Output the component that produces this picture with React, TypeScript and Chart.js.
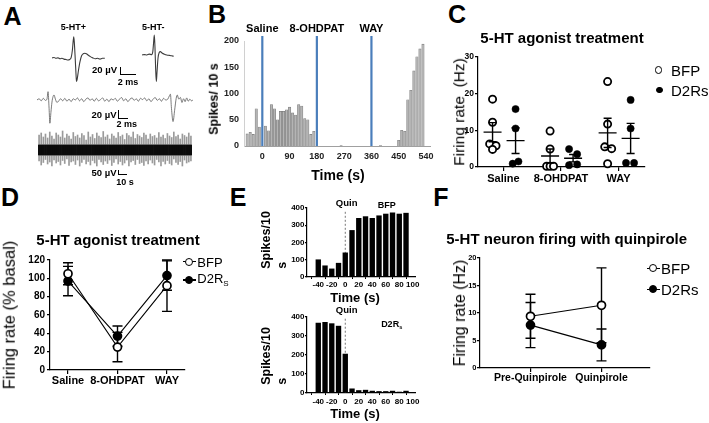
import React, { useEffect, useRef } from 'react';
import { Chart, registerables } from 'chart.js';

Chart.register(...registerables);

const FONT = '"Liberation Sans", Arial, Helvetica, sans-serif';
Chart.defaults.font.family = FONT;
Chart.defaults.color = '#000';

// ---------------- Panel A data ----------------
const plusT = [0, 0.25, 0.5, 0.75, 1.0, 1.25, 1.5, 1.75, 2.0, 2.2, 2.4, 2.55, 2.65, 2.72, 2.8, 2.9, 3.0, 3.06, 3.15, 3.3, 3.5, 3.7, 3.9, 4.1, 4.3, 4.5, 4.8, 5.1, 5.4, 5.7, 6.0, 6.3, 6.6];
const plusV = [1, 2, 0, 1, -1, 0, -2, -3, -4, -3, 2, 20, 42, 52, 35, 0, -38, -56, -50, -30, -8, 6, 11, 12, 11, 8, 4, 1, -1, 0, -2, 0, 0];
const minusT = [0, 0.3, 0.6, 0.9, 1.2, 1.35, 1.45, 1.54, 1.62, 1.7, 1.79, 1.88, 2.0, 2.15, 2.3, 2.5, 2.8, 3.1, 3.4, 3.7, 3.96];
const minusV = [0, 1, 0, 2, 1, 8, 30, 48, 20, -30, -64, -40, -8, 6, 8, 5, 2, 0, -1, -2, -3];
const midT = [0, 0.4, 0.8, 1.2, 1.6, 1.9, 2.1, 2.3, 2.45, 2.65, 2.85, 3.05, 3.25, 3.5, 3.8, 4.1,
  4.5, 4.9, 5.3, 5.7, 6.1, 6.5, 6.9, 7.3, 7.7, 8.1, 8.5, 8.9, 9.3, 9.7, 10.1, 10.5, 10.9, 11.3, 11.7, 12.1,
  12.5, 12.9, 13.3, 13.7, 14.1, 14.5, 14.9, 15.3, 15.7, 16.1, 16.5, 16.9, 17.3, 17.7, 18.1, 18.5, 18.9, 19.3,
  19.7, 20.1, 20.5, 20.9, 21.3, 21.7, 22.1, 22.5, 22.9, 23.3, 23.7, 24.1, 24.5, 24.9,
  25.2, 25.4, 25.6, 25.9, 26.2, 26.5, 26.7, 27.0, 27.3, 27.6, 27.9, 28.2, 28.5, 28.8, 29.1, 29.4, 29.8];
const midV = [0, 3, -2, 4, -1, 2, 20, -20, -56, -30, -5, 8, 12, 2, -6, -3,
  3, -2, 4, -3, 2, -4, 3, 0, 5, -2, 3, -4, 2, 5, -1, 3, -3, 4, -2, 1,
  5, -3, 2, -4, 3, 0, 4, -3, 2, 6, -2, 3, -4, 2, 5, -1, 3, -3,
  4, 1, 5, -2, 3, -4, 2, 6, -1, 3, -3, 4, 0, 2,
  10, 14, -20, -52, -25, 4, 12, 2, 6, -6, 3, -4, 5, -3, 2, -2, 1];
const spikeUp = [150, 170, 130, 160, 120, 180, 140, 110, 170, 150, 130, 190,
  120, 160, 140, 110, 175, 135, 150, 120, 165, 145, 100, 180,
  130, 155, 115, 170, 140, 125, 185, 130, 150, 110, 160, 140,
  120, 175, 135, 150, 105, 165, 145, 130, 180, 115, 155, 140,
  125, 170, 150, 110, 160, 135, 145, 120, 175, 130, 150, 115,
  165, 140, 125, 180, 135, 150, 110, 160, 145, 130, 170, 140];
const spikeDown = [110, 150, 125, 95, 140, 120, 160, 100, 130, 115, 150, 105,
  135, 90, 155, 120, 110, 145, 100, 160, 125, 95, 140, 115,
  150, 105, 130, 160, 95, 120, 145, 110, 135, 100, 155, 125,
  90, 140, 115, 150, 130, 100, 160, 120, 105, 145, 95, 135,
  125, 155, 110, 140, 100, 130, 150, 95, 120, 160, 115, 140,
  105, 135, 150, 90, 125, 145, 115, 160, 100, 130, 120, 110];
const noiseBand = [-50, 50];

// ---------------- Panel B data ----------------
const bTimes = [-50, -40, -30, -20, -10, 10, 20, 30, 40, 50, 60, 70, 80, 90, 100, 110, 120, 130, 140, 150, 160, 170, 260, 390, 450, 460, 470, 480, 490, 500, 510, 520, 530];
const bCounts = [23, 26, 22, 71, 36, 38, 29, 79, 71, 50, 66, 66, 69, 74, 63, 59, 79, 76, 52, 50, 22, 28, 1, 1, 11, 30, 28, 88, 106, 143, 170, 185, 194];
const bTicks = [0, 90, 180, 270, 360, 450, 540];
const bEventTimes = [0, 180, 360];
const bEventNames = ['Saline', '8-OHDPAT', 'WAY'];

// ---------------- Panel C data ----------------
const treatments = ['Saline', '8-OHDPAT', 'WAY'];
const cBfpPoints = [[18.5, 12.2, 6.3, 5.8, 4.8], [9.8, 4.9, 0.2, 0.2, 0.2], [23.3, 11.7, 5.5, 5.0, 0.9]];
const cBfpJitter = [[0, 0, -0.05, 0.06, 0], [0, 0, -0.06, 0, 0.06], [0, 0, -0.05, 0.07, 0]];
const cD2Points = [[15.8, 10.5, 0.9, 1.5], [4.9, 3.5, 0.5, 0.7], [18.3, 10.5, 1.1, 1.1]];
const cD2Jitter = [[0, 0, -0.05, 0.05], [-0.07, 0.07, -0.07, 0.07], [0, 0, -0.08, 0.06]];
const cBfpMean = [9.5, 3.0, 9.3];
const cBfpSem = [2.6, 1.9, 4.0];
const cD2Mean = [7.2, 2.4, 7.8];
const cD2Sem = [3.5, 1.0, 4.1];
const cGroupOffset = [-0.19, 0.21];

// ---------------- Panel D data ----------------
const dBfp = [105, 25, 92];
const dBfpErr = [12, 16, 28];
const dD2 = [97, 37, 103];
const dD2Err = [16, 11, 16];

// ---------------- Panel E data ----------------
const eTimes = [-40, -30, -20, -10, 0, 10, 20, 30, 40, 50, 60, 70, 80, 90];
const eBfp = [100, 65, 47, 80, 140, 270, 340, 350, 340, 355, 365, 372, 365, 370];
const eD2 = [368, 372, 365, 352, 205, 22, 13, 15, 10, 8, 8, 10, 5, 10];
const eTicks = [-40, -20, 0, 20, 40, 60, 80, 100];
const quinTime = 0;

// ---------------- Panel F data ----------------
const fConds = ['Pre-Quinpirole', 'Quinpirole'];
const fBfp = [9.4, 11.4];
const fBfpErr = [4.0, 6.8];
const fD2 = [7.8, 4.2];
const fD2Err = [4.1, 2.9];

// ---------------- helpers ----------------
type Area = { l: number; t: number; r: number; b: number };

function ChartBox({ area, yW = 0, xH = 0, pad = 14, make }: { area: Area; yW?: number; xH?: number; pad?: number; make: () => any }) {
  const ref = useRef<HTMLCanvasElement | null>(null);
  const l = Math.round(area.l), t = Math.round(area.t), r = Math.round(area.r), b = Math.round(area.b);
  const left = l - yW - pad;
  const top = t - pad;
  const w = r - l + yW + 2 * pad;
  const h = b - t + xH + 2 * pad;
  useEffect(() => {
    if (!ref.current) return;
    const cfg = make();
    const o = cfg.options || (cfg.options = {});
    o.animation = false;
    o.responsive = false;
    o.maintainAspectRatio = false;
    o.devicePixelRatio = 1;
    o.events = [];
    o.layout = { padding: pad };
    o.plugins = Object.assign({ legend: { display: false }, tooltip: { enabled: false } }, o.plugins || {});
    const sc = o.scales || {};
    const zero = (s: any) => { s.paddingLeft = 0; s.paddingRight = 0; s.paddingTop = 0; s.paddingBottom = 0; };
    if (sc.x && sc.x.display !== false) sc.x.afterFit = (s: any) => { s.height = xH; zero(s); };
    if (sc.y && sc.y.display !== false) sc.y.afterFit = (s: any) => { s.width = yW; zero(s); };
    const chart = new Chart(ref.current, cfg);
    return () => chart.destroy();
  }, []);
  return <canvas ref={ref} width={w} height={h} style={{ position: 'absolute', left, top, width: w, height: h }} />;
}

function Txt({ x, y, s, b, a = 'c', rot, lh = 1, children }: { x: number; y: number; s: number; b?: boolean; a?: 'c' | 'l' | 'r'; rot?: boolean; lh?: number; children: React.ReactNode }) {
  const tx = a === 'c' ? '-50%' : a === 'r' ? '-100%' : '0';
  return (
    <div style={{
      position: 'absolute', left: x, top: y, fontSize: s, fontWeight: b ? 700 : 400, lineHeight: lh,
      whiteSpace: 'pre', textAlign: 'left',
      transform: rot ? 'translate(-50%,-50%) rotate(-90deg)' : `translate(${tx},-50%)`,
    }}>{children}</div>
  );
}

function Mk({ x, y, fill, r = 4, bw = 1.6, line = 0 }: { x: number; y: number; fill: string; r?: number; bw?: number; line?: number }) {
  return (
    <>
      {line > 0 && <div style={{ position: 'absolute', left: x - line / 2, top: y - 0.6, width: line, height: 1.2, background: '#000' }} />}
      <div style={{ position: 'absolute', left: x - r, top: y - r, width: 2 * r, height: 2 * r, borderRadius: '50%', boxSizing: 'border-box', border: `${bw}px solid #000`, background: fill }} />
    </>
  );
}

function Bar({ x, y, w, h }: { x: number; y: number; w: number; h: number }) {
  return <div style={{ position: 'absolute', left: x, top: y, width: w, height: h, borderLeft: '1.3px solid #000', borderBottom: '1.3px solid #000', boxSizing: 'border-box' }} />;
}

const sub = (t: string) => <span style={{ fontSize: '0.62em', verticalAlign: '-0.3em' }}>{t}</span>;

// ---------------- chart configs ----------------
const traceCfg = (xs: number[], vs: number[], xmax: number, ymin: number, ymax: number, color: string, width: number) => () => ({
  type: 'line',
  data: { datasets: [{ data: xs.map((x, i) => ({ x, y: vs[i] })), borderColor: color, borderWidth: width, pointRadius: 0, cubicInterpolationMode: 'monotone', clip: false }] },
  options: { scales: { x: { type: 'linear', display: false, min: 0, max: xmax }, y: { display: false, min: ymin, max: ymax } } },
});

const rawCfg = () => ({
  type: 'bar',
  data: {
    labels: spikeUp.map((_, i) => String(i)),
    datasets: [
      { data: spikeUp.map(() => noiseBand), backgroundColor: '#0b0b0b', barPercentage: 1, categoryPercentage: 1, grouped: false },
      { data: spikeUp.map((u, i) => [-spikeDown[i], u]), backgroundColor: '#9a9a9a', barThickness: 1, grouped: false },
    ],
  },
  options: { scales: { x: { display: false }, y: { display: false, min: -200, max: 220 } } },
});

const eventPlugin = {
  id: 'events',
  afterDatasetsDraw(chart: any) {
    const { ctx, chartArea, scales: { x } } = chart;
    ctx.save();
    ctx.strokeStyle = '#4a7ebb';
    ctx.lineWidth = 2.2;
    ctx.fillStyle = '#000';
    ctx.font = `bold 11px ${FONT}`;
    ctx.textAlign = 'center';
    ctx.textBaseline = 'middle';
    bEventTimes.forEach((t, i) => {
      const px = x.getPixelForValue(t);
      ctx.beginPath();
      ctx.moveTo(px, chartArea.top - 5);
      ctx.lineTo(px, chartArea.bottom);
      ctx.stroke();
      ctx.fillText(bEventNames[i], px, chartArea.top - 12);
    });
    ctx.restore();
  },
};

const bCfg = () => ({
  type: 'bar',
  data: { datasets: [{ data: bTimes.map((t, i) => ({ x: t, y: bCounts[i] })), backgroundColor: '#b4b4b4', borderColor: '#7a7a7a', borderWidth: 0.6, barThickness: 2.4 }] },
  options: {
    scales: {
      x: {
        type: 'linear', min: -60.4, max: 553.2, offset: false,
        afterBuildTicks: (s: any) => { s.ticks = bTicks.map((v) => ({ value: v })); },
        ticks: { font: { size: 9, weight: 'bold' }, color: '#222', padding: 5, maxRotation: 0, autoSkip: false },
        grid: { display: false, drawTicks: false }, border: { display: true, color: '#a0a0a0', width: 1 },
      },
      y: {
        min: 0, max: 200,
        ticks: { stepSize: 50, font: { size: 9, weight: 'bold' }, color: '#222', padding: 5 },
        grid: { display: false, drawTicks: false }, border: { display: true, color: '#d0d0d0', width: 1 },
      },
    },
  },
  plugins: [eventPlugin],
});

const axX = (labels: string[], min: number, max: number, size: number, pad: number) => ({
  type: 'linear', min, max, offset: false,
  afterBuildTicks: (s: any) => { s.ticks = labels.map((_, i) => ({ value: i })); },
  ticks: { callback: (v: any) => labels[v] ?? '', font: { size, weight: 'bold' }, padding: pad, maxRotation: 0, autoSkip: false, color: '#000' },
  grid: { display: true, drawOnChartArea: false, drawTicks: true, tickLength: 4, color: '#000', lineWidth: 1.2 },
  border: { display: true, color: '#000', width: 1.2 },
});
const axY = (min: number, max: number, step: number, size: number, pad: number, tl = 3) => ({
  min, max,
  ticks: { stepSize: step, font: { size, weight: 'bold' }, padding: pad, color: '#000' },
  grid: { display: true, drawOnChartArea: false, drawTicks: true, tickLength: tl, color: '#000', lineWidth: 1.2 },
  border: { display: true, color: '#000', width: 1.2 },
});

const pts = (vals: number[][], jit: number[][], off: number) =>
  vals.flatMap((arr, i) => arr.map((v, j) => ({ x: i + off + jit[i][j], y: v })));

const cPlugin = {
  id: 'cMeans',
  afterDatasetsDraw(chart: any) {
    const { ctx, scales: { x, y } } = chart;
    ctx.save();
    ctx.strokeStyle = '#000';
    ctx.lineWidth = 1.4;
    const groups: [number[], number[], number][] = [[cBfpMean, cBfpSem, cGroupOffset[0]], [cD2Mean, cD2Sem, cGroupOffset[1]]];
    groups.forEach(([m, s, off]) => m.forEach((mean, i) => {
      const px = x.getPixelForValue(i + off);
      const py = y.getPixelForValue(mean);
      const pt = y.getPixelForValue(mean + s[i]);
      const pb = y.getPixelForValue(mean - s[i]);
      ctx.beginPath();
      ctx.moveTo(px - 9, py); ctx.lineTo(px + 9, py);
      ctx.moveTo(px, pt); ctx.lineTo(px, pb);
      ctx.moveTo(px - 4, pt); ctx.lineTo(px + 4, pt);
      ctx.moveTo(px - 4, pb); ctx.lineTo(px + 4, pb);
      ctx.stroke();
    }));
    ctx.restore();
  },
};

const cCfg = () => ({
  type: 'scatter',
  data: {
    datasets: [
      { data: pts(cBfpPoints, cBfpJitter, cGroupOffset[0]), pointRadius: 3.6, pointBackgroundColor: '#fff', pointBorderColor: '#000', pointBorderWidth: 1.8, clip: false },
      { data: pts(cD2Points, cD2Jitter, cGroupOffset[1]), pointRadius: 3.6, pointBackgroundColor: '#000', pointBorderColor: '#000', pointBorderWidth: 0.5, clip: false },
    ],
  },
  options: { scales: { x: axX(treatments, -0.443, 2.46, 11, 1), y: axY(0, 30, 10, 8.5, 1) } },
  plugins: [cPlugin],
});

const errPlugin = (series: [number[], number[]][]) => ({
  id: 'errs',
  beforeDatasetsDraw(chart: any) {
    const { ctx, scales: { x, y } } = chart;
    ctx.save();
    ctx.strokeStyle = '#000';
    ctx.lineWidth = 1.4;
    series.forEach(([m, e]) => m.forEach((v, i) => {
      const px = x.getPixelForValue(i);
      const pt = y.getPixelForValue(v + e[i]);
      const pb = y.getPixelForValue(v - e[i]);
      ctx.beginPath();
      ctx.moveTo(px, pt); ctx.lineTo(px, pb);
      ctx.moveTo(px - 5, pt); ctx.lineTo(px + 5, pt);
      ctx.moveTo(px - 5, pb); ctx.lineTo(px + 5, pb);
      ctx.stroke();
    }));
    ctx.restore();
  },
});

const seriesDs = (vals: number[], fill: string) => ({
  data: vals.map((v, i) => ({ x: i, y: v })), borderColor: '#000', borderWidth: 1.1, pointRadius: 4,
  pointBackgroundColor: fill, pointBorderColor: '#000', pointBorderWidth: 1.7, clip: false, tension: 0,
});

const dCfg = () => ({
  type: 'line',
  data: { datasets: [seriesDs(dBfp, '#fff'), seriesDs(dD2, '#000')] },
  options: { scales: { x: axX(treatments, -0.364, 2.364, 11, 0), y: axY(0, 120, 20, 10, 2) } },
  plugins: [errPlugin([[dBfp, dBfpErr], [dD2, dD2Err]])],
});

const fCfg = () => ({
  type: 'line',
  data: { datasets: [seriesDs(fBfp, '#fff'), seriesDs(fD2, '#000')] },
  options: { scales: { x: axX(fConds, -0.711, 1.683, 10.5, 0), y: axY(0, 20, 5, 7.5, 0.5) } },
  plugins: [errPlugin([[fBfp, fBfpErr], [fD2, fD2Err]])],
});

const quinPlugin = (topVal: number) => ({
  id: 'quin',
  beforeDatasetsDraw(chart: any) {
    const { ctx, chartArea, scales: { x, y } } = chart;
    const px = x.getPixelForValue(quinTime);
    ctx.save();
    ctx.strokeStyle = '#777';
    ctx.lineWidth = 1;
    ctx.setLineDash([2, 2]);
    ctx.beginPath();
    ctx.moveTo(px, y.getPixelForValue(topVal));
    ctx.lineTo(px, chartArea.bottom);
    ctx.stroke();
    ctx.restore();
  },
});

const eCfg = (vals: number[], topVal: number, xPad: number) => () => ({
  type: 'bar',
  data: { datasets: [{ data: eTimes.map((t, i) => ({ x: t, y: vals[i] })), backgroundColor: '#000', barThickness: 4.7 }] },
  options: {
    scales: {
      x: {
        type: 'linear', min: -56.7, max: 103.3, offset: false,
        afterBuildTicks: (s: any) => { s.ticks = eTicks.map((v) => ({ value: v })); },
        ticks: { font: { size: 8, weight: 'bold' }, padding: xPad, maxRotation: 0, autoSkip: false, color: '#000' },
        grid: { display: true, drawOnChartArea: false, drawTicks: true, tickLength: 2, color: '#000', lineWidth: 1 },
        border: { display: true, color: '#000', width: 1.2 },
      },
      y: axY(0, 400, 100, 8, 0.5, 2),
    },
  },
  plugins: [quinPlugin(topVal)],
});

export default function App() {
  return (
    <div style={{ position: 'fixed', left: 0, top: 0, width: 709, height: 423, background: '#fff', overflow: 'hidden', fontFamily: FONT, color: '#000' }}>
      {/* Panel letters */}
      <Txt x={12.5} y={16} s={25} b>A</Txt>
      <Txt x={217} y={14} s={25} b>B</Txt>
      <Txt x={457} y={14} s={25} b>C</Txt>
      <Txt x={10} y={197} s={25} b>D</Txt>
      <Txt x={238} y={197} s={25} b>E</Txt>
      <Txt x={441} y={197} s={25} b>F</Txt>

      {/* Panel A */}
      <ChartBox area={{ l: 52, t: 30, r: 105, b: 88 }} pad={0} make={traceCfg(plusT, plusV, 6.625, -71.6, 68.2, '#3c3c3c', 1.1)} />
      <ChartBox area={{ l: 142, t: 30, r: 175, b: 88 }} pad={0} make={traceCfg(minusT, minusV, 4.125, -79.5, 60.2, '#3c3c3c', 1.1)} />
      <ChartBox area={{ l: 37, t: 85, r: 193, b: 128 }} pad={0} make={traceCfg(midT, midV, 29.7, -67.5, 36.1, '#5a5a5a', 0.8)} />
      <ChartBox area={{ l: 38, t: 128, r: 192, b: 170 }} pad={0} make={rawCfg} />
      <Txt x={73.3} y={26.7} s={9} b>5-HT+</Txt>
      <Txt x={153.3} y={26.7} s={9} b>5-HT-</Txt>
      <Txt x={117} y={70} s={9.5} b a="r">20 µV</Txt>
      <Bar x={120} y={66.7} w={16} h={8.6} />
      <Txt x={128} y={81.5} s={9} b>2 ms</Txt>
      <Txt x={116.5} y={114.5} s={9.5} b a="r">20 µV</Txt>
      <Bar x={117.5} y={110} w={10.5} h={8.6} />
      <Txt x={126.7} y={123.5} s={9} b>2 ms</Txt>
      <Txt x={116.5} y={173.3} s={9.5} b a="r">50 µV</Txt>
      <Bar x={118.3} y={170} w={8.3} h={5.3} />
      <Txt x={125} y={182} s={9} b>10 s</Txt>

      {/* Panel B */}
      <ChartBox area={{ l: 244, t: 41, r: 430, b: 146 }} yW={26} xH={20} pad={22} make={bCfg} />
      <Txt x={213.5} y={99} s={12.5} b rot>Spikes/ 10 s</Txt>
      <Txt x={338} y={175} s={14} b>Time (s)</Txt>

      {/* Panel C */}
      <ChartBox area={{ l: 478, t: 57, r: 645, b: 167 }} yW={18} xH={18} make={cCfg} />
      <Txt x={562} y={37} s={15} b>5-HT agonist treatment</Txt>
      <Txt x={459} y={112} s={15.5} rot>{'Firing rate  (Hz)'}</Txt>
      <Mk x={658.3} y={70} r={3.8} bw={1.8} fill="#fff" />
      <Txt x={671} y={70} s={15} a="l">BFP</Txt>
      <Mk x={659.3} y={90} r={3.3} bw={1} fill="#000" />
      <Txt x={671} y={90} s={15} a="l">D2Rs</Txt>

      {/* Panel D */}
      <ChartBox area={{ l: 50, t: 260, r: 185, b: 370 }} yW={24} xH={18} make={dCfg} />
      <Txt x={118} y={239} s={15} b>5-HT agonist treatment</Txt>
      <Txt x={9} y={315} s={16.5} rot>Firing rate (% basal)</Txt>
      <Mk x={189} y={261.7} r={4} bw={1.6} fill="#fff" line={13} />
      <Txt x={197.3} y={261.7} s={13} a="l">BFP</Txt>
      <Mk x={189} y={280} r={4} bw={1.6} fill="#000" line={13} />
      <Txt x={197.3} y={280} s={13} a="l">D2R{sub('S')}</Txt>

      {/* Panel E */}
      <ChartBox area={{ l: 307, t: 208, r: 415, b: 277 }} yW={18} xH={16} make={eCfg(eBfp, 378, 0.5)} />
      <ChartBox area={{ l: 307, t: 317, r: 415, b: 393 }} yW={18} xH={16} make={eCfg(eD2, 391, 2)} />
      <Txt x={346.7} y={203.3} s={9.5} b>Quin</Txt>
      <Txt x={386.7} y={205} s={9} b>BFP</Txt>
      <Txt x={274} y={240} s={12.5} b rot lh={1.24}>{'Spikes/10\ns'}</Txt>
      <Txt x={355} y={296.7} s={13} b>Time (s)</Txt>
      <Txt x={346.7} y={310} s={9.5} b>Quin</Txt>
      <Txt x={391.7} y={325} s={9} b>D2R{sub('s')}</Txt>
      <Txt x={274} y={356} s={12.5} b rot lh={1.24}>{'Spikes/10\ns'}</Txt>
      <Txt x={355} y={413.3} s={13} b>Time (s)</Txt>

      {/* Panel F */}
      <ChartBox area={{ l: 480, t: 258, r: 650, b: 368 }} yW={18} xH={18} make={fCfg} />
      <Txt x={566.7} y={238.3} s={15} b>5-HT neuron firing with quinpirole</Txt>
      <Txt x={460} y={313} s={16} rot>Firing rate (Hz)</Txt>
      <Mk x={653.3} y={268.3} r={4} bw={1.6} fill="#fff" line={13} />
      <Txt x={661} y={268.3} s={15} a="l">BFP</Txt>
      <Mk x={653.3} y={289.3} r={4} bw={1.6} fill="#000" line={13} />
      <Txt x={661} y={289.3} s={15} a="l">D2Rs</Txt>
    </div>
  );
}
